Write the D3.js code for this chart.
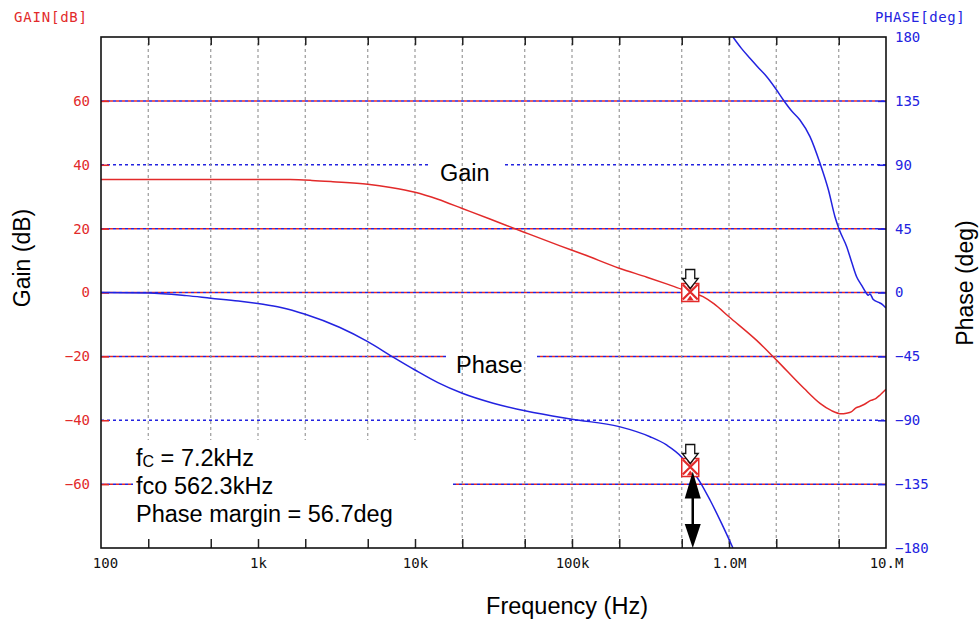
<!DOCTYPE html>
<html><head><meta charset="utf-8">
<script src="https://cdn.jsdelivr.net/npm/d3@7"></script>
<style>
html,body{margin:0;padding:0;background:#fff;}
svg{display:block;}
.mono{font-family:"DejaVu Sans Mono",monospace;font-size:14px;}
.sans{font-family:"Liberation Sans",Arial,sans-serif;}
</style></head>
<body>
<svg id="chart" width="980" height="623"></svg>
<script>
// ---------- data ----------
const gainFreq = [100,300,1e3,1.6e3,2.2e3,3e3,5e3,7e3,1e4,1.4e4,2e4,3e4,5e4,8.4e4,1.2e5,2e5,3e5,4e5,5e5,5.623e5,6.83e5,8e5,1e6,1.5e6,2e6,3e6,3.8e6,4.5e6,5.2e6,5.6e6,6e6,6.4e6,6.8e6,7.3e6,8e6,8.6e6,9.2e6,1e7];
const gainDb   = [35.4,35.4,35.4,35.35,35.1,34.7,33.9,32.9,31.4,29.2,26.3,23.0,18.8,14.6,11.8,7.6,4.8,2.7,1.0,0,-1.3,-3.5,-7.6,-15,-21.1,-30,-34.7,-37,-38,-37.8,-37.4,-36.2,-35.7,-35,-33.8,-33.2,-32,-30.3];

const phaseFreqA = [100,200,350,500,750,1.05e3,1.4e3,2e3,3.3e3,5e3,7.3e3,1e4,1.4e4,2e4,3.15e4,5.1e4,1e5,2e5,3.14e5,4e5,5e5,5.623e5,6.5e5,7.57e5,9e5,1.06e6];
const phaseDegA  = [0,-0.3,-2.2,-4,-6,-8.1,-10.5,-15.3,-24.5,-34.6,-45.7,-54.6,-63.5,-71,-78,-83.5,-89.3,-94.5,-101.6,-107.4,-116,-123.3,-133,-146.2,-163,-180];
const phaseFreqB = [1.06e6,1.2e6,1.36e6,1.55e6,1.74e6,2e6,2.22e6,2.5e6,2.83e6,3.28e6,3.8e6,4.3e6,4.73e6,5.05e6,5.62e6,6.1e6,6.5e6,7e6,7.5e6,7.7e6,7.9e6,8.3e6,9e6,9.5e6,1e7];
const phaseDegB  = [180,172,165,158,152,143,135.6,128,121.5,109.8,91,72.2,53.4,44,32.3,20,11.1,5,-0.5,-2,-1,-5,-7,-8.5,-11];

const gainTicks   = [60,40,20,0,-20,-40,-60];
const gainRedGrid = [60,20,0,-20,-60];
const phaseTicks  = [180,135,90,45,0,-45,-90,-135,-180];
const freqGrid    = [200,500,1e3,2e3,5e3,1e4,2e4,5e4,1e5,2e5,5e5,1e6,2e6,5e6];
const freqLabelValues = [100,1e3,1e4,1e5,1e6,1e7];
const freqLabels  = ["100","1k","10k","100k","1.0M","10.M"];

const fco = 5.623e5;
const phaseAtFco = -123.3;

const RED = "#e22a2a", BLUE = "#2323e0";

// ---------- scales ----------
const L = 101, R = 886, T = 37, B = 548;
const x = d3.scaleLog().domain([100,1e7]).range([L,R]);
const yG = d3.scaleLinear().domain([-80,80]).range([B,T]);
const yP = d3.scaleLinear().domain([-180,180]).range([B,T]);

const svg = d3.select("#chart");
svg.append("defs").append("clipPath").attr("id","plot")
  .append("rect").attr("x",L).attr("y",T).attr("width",R-L).attr("height",B-T);

// ---------- horizontal grid ----------
const hg = svg.append("g");
const gaps = {"90":[[430,505]], "-45":[[446,537]], "-135":[[133,453]]};
function segs(key){
  const g = gaps[key]; if(!g) return [[L,R]];
  let out=[], s=L;
  g.forEach(([a,b])=>{ if(a>s) out.push([s,a]); s=b; });
  if(s<R) out.push([s,R]);
  return out;
}
phaseTicks.filter(d=>d>-180 && d<180).forEach(p=>{
  const yy = yP(p);
  segs(String(p)).forEach(([a,b])=>{
    hg.append("line").attr("x1",a).attr("x2",b).attr("y1",yy).attr("y2",yy)
      .attr("stroke",BLUE).attr("stroke-width",1.5).attr("stroke-dasharray","3,3");
  });
});
gainRedGrid.forEach(gv=>{
  const yy = yG(gv);
  const p = gv*45/20;
  segs(String(p)).forEach(([a,b])=>{
    hg.append("line").attr("x1",a).attr("x2",b).attr("y1",yy).attr("y2",yy)
      .attr("stroke",RED).attr("stroke-width",1.5).attr("stroke-dasharray","3,3").attr("stroke-dashoffset",3);
  });
});

// ---------- vertical grid ----------
svg.append("g").selectAll("line").data(freqGrid).join("line")
  .attr("x1",d=>x(d)).attr("x2",d=>x(d)).attr("y1",T).attr("y2",B)
  .attr("stroke","#9a9a9a").attr("stroke-width",1.2).attr("stroke-dasharray","3,3");

// white annotation box
svg.append("rect").attr("x",133).attr("y",440).attr("width",320).attr("height",B-440-1).attr("fill","#fff");

// ---------- ticks on frame ----------
svg.append("g").attr("transform",`translate(0,${B})`)
  .call(d3.axisBottom(x).tickValues(freqGrid).tickSizeInner(-9).tickSizeOuter(0).tickFormat(""))
  .call(g=>g.select(".domain").remove())
  .call(g=>g.selectAll("line").attr("stroke","#222").attr("stroke-width",1.5));
svg.append("g").attr("transform",`translate(0,${T})`)
  .call(d3.axisTop(x).tickValues(freqGrid).tickSizeInner(-8).tickSizeOuter(0).tickFormat(""))
  .call(g=>g.select(".domain").remove())
  .call(g=>g.selectAll("line").attr("stroke","#222").attr("stroke-width",1.5));
svg.append("g").attr("transform",`translate(0,${B})`)
  .call(d3.axisBottom(x).tickValues(freqLabelValues).tickSize(0).tickPadding(10)
        .tickFormat((d,i)=>freqLabels[i]))
  .call(g=>g.select(".domain").remove())
  .call(g=>g.selectAll("text").attr("fill","#111").attr("font-size",14)
        .attr("font-family","DejaVu Sans Mono, monospace").attr("dx",(d,i)=>i===0?4:0));

svg.append("g").attr("transform",`translate(${L},0)`)
  .call(d3.axisRight(yG).tickValues(gainTicks).tickSize(8).tickFormat(""))
  .call(g=>g.select(".domain").remove())
  .call(g=>g.selectAll("line").attr("stroke",RED).attr("stroke-width",1.6));
svg.append("g").attr("transform",`translate(${L},0)`)
  .call(d3.axisLeft(yG).tickValues(gainTicks).tickSize(0).tickPadding(11).tickFormat(d3.format("d")))
  .call(g=>g.select(".domain").remove())
  .call(g=>g.selectAll("text").attr("fill",RED).attr("font-size",14).attr("font-family","DejaVu Sans Mono, monospace"));
svg.append("g").attr("transform",`translate(${R},0)`)
  .call(d3.axisLeft(yP).tickValues(phaseTicks.filter(d=>d>-180&&d<180)).tickSize(8).tickFormat(""))
  .call(g=>g.select(".domain").remove())
  .call(g=>g.selectAll("line").attr("stroke",BLUE).attr("stroke-width",1.6));
svg.append("g").attr("transform",`translate(${R},0)`)
  .call(d3.axisRight(yP).tickValues(phaseTicks).tickSize(0).tickPadding(9).tickFormat(d3.format("d")))
  .call(g=>g.select(".domain").remove())
  .call(g=>g.selectAll("text").attr("fill",BLUE).attr("font-size",14).attr("font-family","DejaVu Sans Mono, monospace"));

// ---------- curves ----------
const cg = svg.append("g").attr("clip-path","url(#plot)");
const gainLine = d3.line().x(d=>x(d[0])).y(d=>yG(d[1])).curve(d3.curveMonotoneX);
const phaseLine = d3.line().x(d=>x(d[0])).y(d=>yP(d[1])).curve(d3.curveMonotoneX);
cg.append("path").attr("d",gainLine(d3.zip(gainFreq,gainDb)))
  .attr("fill","none").attr("stroke",RED).attr("stroke-width",1.5);
cg.append("path").attr("d",phaseLine(d3.zip(phaseFreqA,phaseDegA)))
  .attr("fill","none").attr("stroke",BLUE).attr("stroke-width",1.5);
cg.append("path").attr("d",phaseLine(d3.zip(phaseFreqB,phaseDegB)))
  .attr("fill","none").attr("stroke",BLUE).attr("stroke-width",1.5);

// ---------- frame ----------
svg.append("rect").attr("x",L).attr("y",T).attr("width",R-L).attr("height",B-T)
  .attr("fill","none").attr("stroke","#111").attr("stroke-width",1.6);

// ---------- markers ----------
function marker(cx, cy){
  const g = svg.append("g");
  g.append("rect").attr("x",cx-8).attr("y",cy-9).attr("width",17).attr("height",18)
    .attr("fill","#fff").attr("stroke",RED).attr("stroke-width",1.5);
  g.append("path").attr("d",`M${cx-7},${cy-8}L${cx+8},${cy+7}M${cx+8},${cy-8}L${cx-7},${cy+7}`)
    .attr("stroke",RED).attr("stroke-width",2.2);
  g.append("path").attr("d",`M${cx-3},${cy+8}L${cx+0.5},${cy+3}L${cx+4},${cy+8}Z`).attr("fill",RED);
  g.append("path").attr("d",`M${cx-3},${cy-7}L${cx+0.5},${cy-2}L${cx+4},${cy-7}Z`).attr("fill",RED);
  const top = cy-23;
  g.append("path")
    .attr("d",`M${cx-4},${top}L${cx+5},${top}L${cx+5},${top+9}L${cx+8.5},${top+9}L${cx+0.5},${top+19}L${cx-7.5},${top+9}L${cx-4},${top+9}Z`)
    .attr("fill","#fff").attr("stroke","#111").attr("stroke-width",1.3);
}
marker(x(fco), yG(0));
marker(x(fco), yP(phaseAtFco));

(function(){
  const ax = x(fco)+3, y1 = yP(phaseAtFco)+4, y2 = yP(-180);
  const g = svg.append("g");
  g.append("line").attr("x1",ax).attr("x2",ax).attr("y1",y1+20).attr("y2",y2-20).attr("stroke","#000").attr("stroke-width",2.5);
  g.append("path").attr("d",`M${ax},${y1}L${ax+8},${y1+27}L${ax-8},${y1+27}Z`).attr("fill","#000");
  g.append("path").attr("d",`M${ax},${y2}L${ax+8},${y2-24}L${ax-8},${y2-24}Z`).attr("fill","#000");
})();

// ---------- texts ----------
svg.append("text").attr("x",14).attr("y",22).attr("fill",RED).attr("class","mono").attr("letter-spacing",0.8).text("GAIN[dB]");
svg.append("text").attr("x",875).attr("y",22).attr("fill",BLUE).attr("class","mono").attr("letter-spacing",0.6).text("PHASE[deg]");

svg.append("text").attr("class","sans").attr("font-size",23).attr("text-anchor","middle")
  .attr("transform","translate(30,258) rotate(-90)").text("Gain (dB)");
svg.append("text").attr("class","sans").attr("font-size",23).attr("text-anchor","middle")
  .attr("transform","translate(973,283) rotate(-90)").text("Phase (deg)");
svg.append("text").attr("class","sans").attr("font-size",23.5).attr("text-anchor","middle")
  .attr("x",567).attr("y",614).text("Frequency (Hz)");

svg.append("text").attr("class","sans").attr("font-size",23.5).attr("x",440).attr("y",181).text("Gain");
svg.append("text").attr("class","sans").attr("font-size",23.5).attr("x",456).attr("y",373).text("Phase");

const t1 = svg.append("text").attr("class","sans").attr("font-size",23.5).attr("x",136).attr("y",466);
t1.append("tspan").text("f");
t1.append("tspan").attr("font-size",16).attr("dy",1).text("C");
t1.append("tspan").attr("dy",-1).text(" = 7.2kHz");
svg.append("text").attr("class","sans").attr("font-size",23.5).attr("x",136).attr("y",494).text("fco 562.3kHz");
svg.append("text").attr("class","sans").attr("font-size",23.5).attr("x",136).attr("y",522).text("Phase margin = 56.7deg");
</script>
</body></html>
